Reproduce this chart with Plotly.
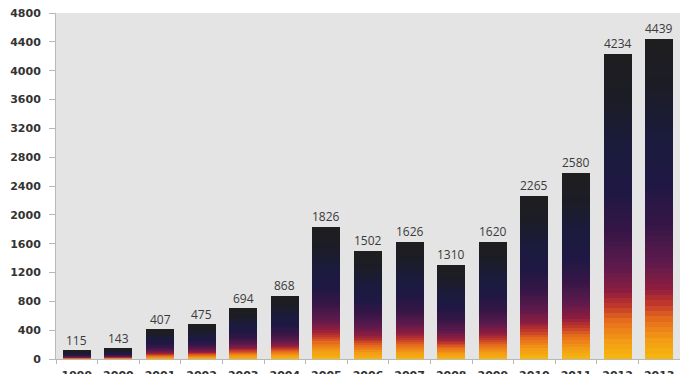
import plotly.graph_objects as go

# Annual counts, 1999-2013
years = ["1999", "2000", "2001", "2002", "2003", "2004", "2005", "2006",
         "2007", "2008", "2009", "2010", "2011", "2012", "2013"]
counts = [115, 143, 407, 475, 694, 868, 1826, 1502, 1626, 1310, 1620,
          2265, 2580, 4234, 4439]
y_ticks = list(range(0, 4801, 400))

# Vertical gradient used inside every bar (fraction of bar height -> colour)
stops = [
    (0.00, (247, 184, 14)),
    (0.06, (243, 155, 21)),
    (0.12, (232, 112, 28)),
    (0.17, (196, 58, 42)),
    (0.22, (142, 29, 63)),
    (0.30, (94, 26, 76)),
    (0.42, (53, 22, 70)),
    (0.55, (31, 24, 68)),
    (0.70, (27, 27, 60)),
    (0.85, (28, 28, 38)),
    (1.00, (30, 30, 32)),
]


def colour_at(t):
    for (t0, c0), (t1, c1) in zip(stops[:-1], stops[1:]):
        if t <= t1:
            f = (t - t0) / (t1 - t0)
            rgb = [round(a + (b - a) * f) for a, b in zip(c0, c1)]
            return "rgb({},{},{})".format(*rgb)
    return "rgb({},{},{})".format(*stops[-1][1])


N_SEG = 60
fig = go.Figure()

# Each bar is a stack of thin slices, each slice one step of the gradient
for k in range(N_SEG):
    fig.add_trace(go.Bar(
        x=years,
        y=[v / N_SEG for v in counts],
        marker=dict(color=colour_at((k + 0.5) / N_SEG), line=dict(width=0)),
        hoverinfo="skip",
        showlegend=False,
    ))

# Value labels above the bars (category axis: position by category index)
for i, v in enumerate(counts):
    fig.add_annotation(
        x=i, y=v, text=str(v),
        showarrow=False, yanchor="bottom", yshift=0,
        font=dict(family="Open Sans", size=12, color="#3a3a3a"),
    )

fig.update_layout(
    width=680,
    height=374,
    margin=dict(l=56, r=0, t=13, b=15, autoexpand=False),
    barmode="stack",
    bargap=0.33,
    paper_bgcolor="white",
    plot_bgcolor="#e4e4e4",
    xaxis=dict(
        type="category",
        categoryorder="array",
        categoryarray=years,
        range=[-0.5, len(years) - 0.5],
        automargin=False,
        showline=True,
        linecolor="#b8b8b8",
        linewidth=1,
        ticks="outside",
        tickson="boundaries",
        ticklen=4,
        tickcolor="#b8b8b8",
        ticklabelstandoff=6,
        tickangle=0,
        showgrid=False,
        tickfont=dict(family="DejaVu Sans", size=11, color="#333333", weight="bold"),
    ),
    yaxis=dict(
        range=[0, 4800],
        automargin=False,
        tickvals=y_ticks,
        ticktext=[str(v) for v in y_ticks],
        showline=True,
        linecolor="#b8b8b8",
        linewidth=1,
        ticks="outside",
        ticklen=6,
        tickcolor="#b8b8b8",
        ticklabelstandoff=6,
        showgrid=False,
        zeroline=False,
        tickfont=dict(family="DejaVu Sans", size=11, color="#333333", weight="bold"),
    ),
)

fig.write_html("out.html")
